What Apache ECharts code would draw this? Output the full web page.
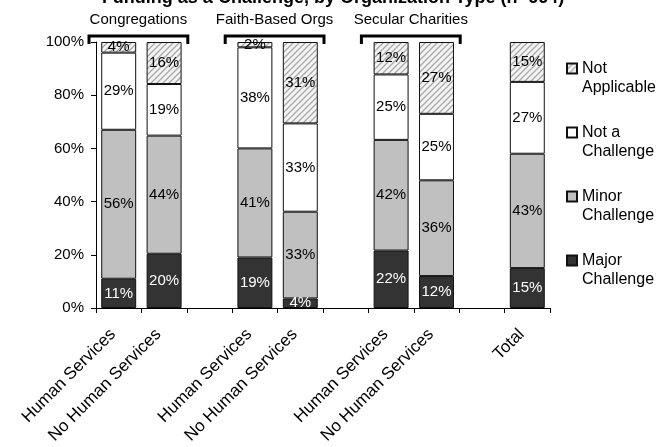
<!DOCTYPE html>
<html>
<head>
<meta charset="utf-8">
<script src="https://cdn.jsdelivr.net/npm/echarts@6/dist/echarts.min.js"></script>
<style>
  html, body { margin: 0; padding: 0; background: #fff; }
  #chart { width: 666px; height: 447px; }
</style>
</head>
<body>
<div id="chart"></div>
<script>
// Bar categories (empty entries are spacers between organization groups)
const categories = ['Human Services', 'No Human Services', '', 'Human Services', 'No Human Services', '', 'Human Services', 'No Human Services', '', 'Total'];

// Share of responses per category (percent)
const majorChallenge = [11, 20.4, null, 19, 3.6, null, 21.6, 12, null, 15];
const minorChallenge = [56, 44.4, null, 41, 32.6, null, 41.6, 36, null, 43];
const notAChallenge  = [29, 19.4, null, 38, 33.2, null, 24.6, 25, null, 27];
const notApplicable  = [4, 15.8, null, 2, 30.6, null, 12.2, 27, null, 15];

// Organization groups spanning pairs of categories
const groupNames = ['Congregations', 'Faith-Based Orgs', 'Secular Charities'];
const groupStart = [0, 3, 6];
const groupEnd = [1, 4, 7];

// Legend entries (top to bottom) and their two-line captions
const legendNames = ['Not Applicable', 'Not a Challenge', 'Minor Challenge', 'Major Challenge'];
const legendCaptions = ['Not\nApplicable', 'Not a\nChallenge', 'Minor\nChallenge', 'Major\nChallenge'];

const yTicks = [0, 20, 40, 60, 80, 100];

const chartTitle = 'Funding as a Challenge, by Organization Type (n=664)';

const FONT = "'Liberation Sans', Arial, sans-serif";

// Diagonal hatch fill for the "Not Applicable" segments
function hatchPattern() {
  const s = 6;
  const c = document.createElement('canvas');
  c.width = s; c.height = s;
  const g = c.getContext('2d');
  g.fillStyle = '#f4f4f4';
  g.fillRect(0, 0, s, s);
  g.strokeStyle = '#a8a8a8';
  g.lineWidth = 1.3;
  g.beginPath();
  g.moveTo(-1, s + 1); g.lineTo(s + 1, -1);
  g.moveTo(-1, 1); g.lineTo(1, -1);
  g.moveTo(s - 1, s + 1); g.lineTo(s + 1, s - 1);
  g.stroke();
  return { image: c, repeat: 'repeat' };
}

const chart = echarts.init(document.getElementById('chart'), null, { renderer: 'canvas' });

function seriesDef(name, data, fill, labelColor) {
  return {
    name: name,
    type: 'bar',
    stack: 'total',
    data: data,
    barCategoryGap: '23%',
    itemStyle: { color: fill, borderColor: '#111', borderWidth: 1 },
    label: {
      show: true,
      position: 'inside',
      color: labelColor,
      fontFamily: FONT,
      fontSize: 15,
      formatter: p => (p.value == null ? '' : Math.round(p.value) + '%')
    },
    emphasis: { disabled: true },
    animation: false
  };
}

const legendLH = 19;

chart.setOption({
  animation: false,
  grid: { left: 96, right: 116, top: 42, bottom: 139 },
  legend: {
    orient: 'vertical',
    left: 566,
    top: 40,
    padding: 0,
    itemWidth: 10,
    itemHeight: 10,
    itemGap: 7,
    icon: 'rect',
    data: legendNames,
    // a blank first line keeps the swatch level with the caption's first line
    formatter: name => '\u00a0\n' + legendCaptions[legendNames.indexOf(name)],
    textStyle: {
      fontFamily: FONT,
      fontSize: 16,
      color: '#000',
      lineHeight: legendLH
    },
    selectedMode: false
  },
  xAxis: {
    type: 'category',
    data: categories,
    axisLine: { lineStyle: { color: '#000', width: 1 } },
    axisTick: { show: true, interval: 0, length: 5, lineStyle: { color: '#000' } },
    axisLabel: {
      interval: 0,
      rotate: 45,
      margin: 18,
      padding: [0, 8, 0, 0],
      fontFamily: FONT,
      fontSize: 17,
      color: '#000'
    }
  },
  yAxis: {
    type: 'value',
    min: yTicks[0],
    max: yTicks[yTicks.length - 1],
    interval: 20,
    axisLine: { show: true, lineStyle: { color: '#000', width: 1 } },
    axisTick: { show: true, length: 5, lineStyle: { color: '#000' } },
    splitLine: { show: false },
    axisLabel: {
      formatter: '{value}%',
      fontFamily: FONT,
      fontSize: 15,
      color: '#000',
      margin: 12
    }
  },
  series: [
    seriesDef('Major Challenge', majorChallenge, '#333333', '#fff'),
    seriesDef('Minor Challenge', minorChallenge, '#c0c0c0', '#000'),
    seriesDef('Not a Challenge', notAChallenge, '#ffffff', '#000'),
    seriesDef('Not Applicable', notApplicable, hatchPattern(), '#000')
  ]
});

// Title runs off the top edge; group brackets and names sit above each pair of bars
const x0 = chart.convertToPixel({ xAxisIndex: 0 }, 0);
const x1 = chart.convertToPixel({ xAxisIndex: 0 }, 1);
const band = x1 - x0;
const yTop = chart.convertToPixel({ yAxisIndex: 0 }, 100);
const graphics = [{
  type: 'text',
  x: 333,
  y: 7,
  style: {
    text: chartTitle,
    fontFamily: FONT,
    fontSize: 18,
    fontWeight: 'bold',
    fill: '#000',
    align: 'center',
    verticalAlign: 'bottom'
  },
  silent: true
}];
groupNames.forEach((name, i) => {
  const l = chart.convertToPixel({ xAxisIndex: 0 }, groupStart[i]) - band / 2 - 7;
  const r = chart.convertToPixel({ xAxisIndex: 0 }, groupEnd[i]) + band / 2 + 1;
  graphics.push({
    type: 'polyline',
    shape: { points: [[l, yTop + 2], [l, yTop - 6], [r, yTop - 6], [r, yTop + 2]] },
    style: { stroke: '#000', lineWidth: 3, fill: null, lineJoin: 'miter' },
    silent: true
  });
  graphics.push({
    type: 'text',
    x: (l + r) / 2,
    y: 20,
    style: {
      text: name,
      fontFamily: FONT,
      fontSize: 15,
      fill: '#000',
      align: 'center',
      verticalAlign: 'middle'
    },
    silent: true
  });
});
chart.setOption({ graphic: graphics });
</script>
</body>
</html>
